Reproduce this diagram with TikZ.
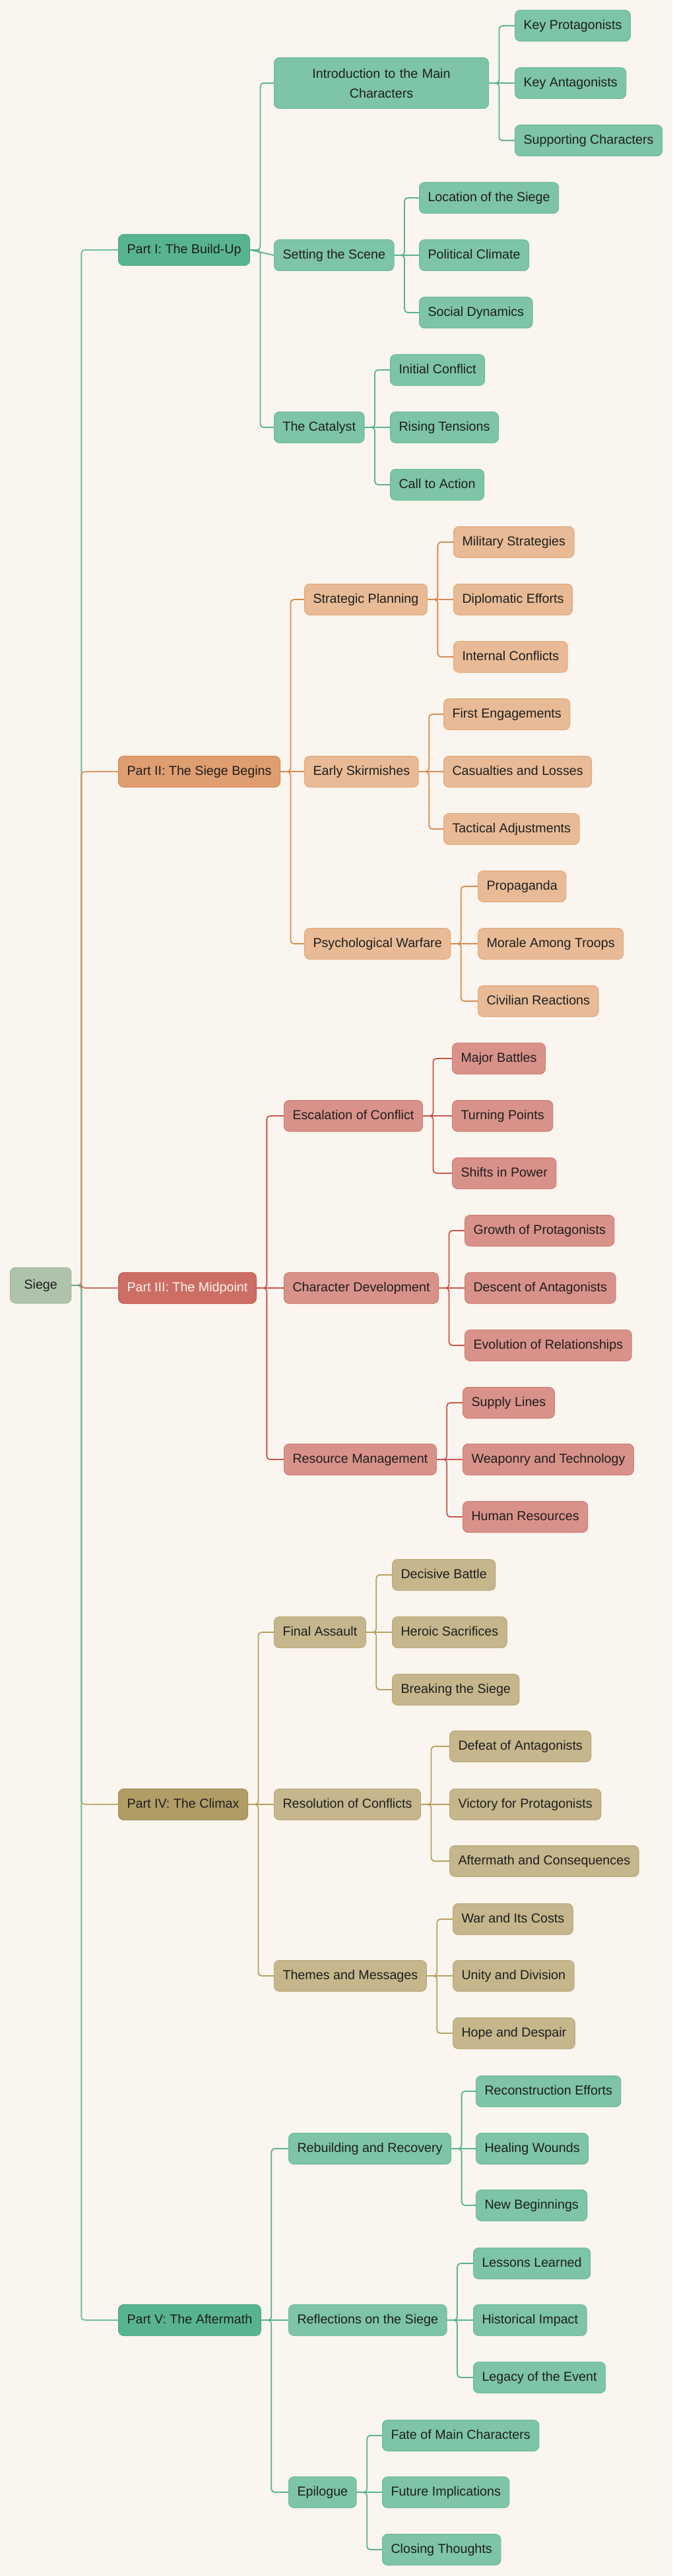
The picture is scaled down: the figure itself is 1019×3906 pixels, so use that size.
\documentclass[tikz,border=0pt]{standalone}
\usepackage{fontspec}
\setmainfont{Liberation Sans}

\definecolor{bg}{HTML}{FAF5EE}
\definecolor{ink}{HTML}{1E1E1E}
\definecolor{rootF}{HTML}{AEC4AA}
\definecolor{rootB}{HTML}{9DB799}
% green
\definecolor{grnD}{HTML}{58B490}
\definecolor{grnB}{HTML}{48A680}
\definecolor{grnL}{HTML}{7DC4A8}
\definecolor{grnM}{HTML}{6DBB9B}
\definecolor{grnE}{HTML}{5AB28F}
% orange
\definecolor{orgD}{HTML}{DF9E6F}
\definecolor{orgB}{HTML}{D4874F}
\definecolor{orgL}{HTML}{E8BB96}
\definecolor{orgM}{HTML}{E2A777}
\definecolor{orgE}{HTML}{D98A50}
% red
\definecolor{redD}{HTML}{CD6E65}
\definecolor{redB}{HTML}{C45A50}
\definecolor{redL}{HTML}{D9928A}
\definecolor{redM}{HTML}{CF7B72}
\definecolor{redE}{HTML}{C9554E}
% tan
\definecolor{tanD}{HTML}{B09D66}
\definecolor{tanB}{HTML}{A08C55}
\definecolor{tanL}{HTML}{C5B68C}
\definecolor{tanM}{HTML}{B9A878}
\definecolor{tanE}{HTML}{B8A060}

\tikzset{
  box/.style={rounded corners=4pt, line width=0.5pt, anchor=west,
    minimum height=23.5pt, inner xsep=6.5pt, inner ysep=2pt,
    text height=7.2pt, text depth=2.1pt, text=ink,
    font=\fontsize{9.85pt}{15pt}\selectfont},
  root/.style={box, fill=rootF, draw=rootB, minimum height=27pt, inner xsep=10.5pt},
  part/.style={box, fill=#1D, draw=#1B},
  topic/.style={box, fill=#1L, draw=#1M},
  edge/.style={draw=#1E, line width=0.9pt, rounded corners=2.5pt},
}

\begin{document}
\begin{tikzpicture}[x=0.5pt, y=-0.5pt]
  \fill[bg] (0,0) rectangle (1019,3906);

  % Nodes
  \node[root] (r) at (15,1949) {Siege};

  \node[part=grn] (p1) at (179,379) {Part I: The Build-Up};
  \node[topic=grn, text width=149.5pt, align=center, minimum height=38.5pt,
        text height=, text depth=] (t11) at (415,126) {Introduction to the Main\\Characters};
  \node[topic=grn] (t12) at (415,387) {Setting the Scene};
  \node[topic=grn] (t13) at (415,648) {The Catalyst};
  \node[topic=grn] (l111) at (780,39) {Key Protagonists};
  \node[topic=grn] (l112) at (780,126) {Key Antagonists};
  \node[topic=grn] (l113) at (780,213) {Supporting Characters};
  \node[topic=grn] (l121) at (635,300) {Location of the Siege};
  \node[topic=grn] (l122) at (635,387) {Political Climate};
  \node[topic=grn] (l123) at (635,474) {Social Dynamics};
  \node[topic=grn] (l131) at (591,561) {Initial Conflict};
  \node[topic=grn] (l132) at (591,648) {Rising Tensions};
  \node[topic=grn] (l133) at (591,735) {Call to Action};

  \node[part=org] (p2) at (179,1170) {Part II: The Siege Begins};
  \node[topic=org] (t21) at (461,909) {Strategic Planning};
  \node[topic=org] (t22) at (461,1170) {Early Skirmishes};
  \node[topic=org] (t23) at (461,1431) {Psychological Warfare};
  \node[topic=org] (l211) at (687,822) {Military Strategies};
  \node[topic=org] (l212) at (687,909) {Diplomatic Efforts};
  \node[topic=org] (l213) at (687,996) {Internal Conflicts};
  \node[topic=org] (l221) at (672,1083) {First Engagements};
  \node[topic=org] (l222) at (672,1170) {Casualties and Losses};
  \node[topic=org] (l223) at (672,1257) {Tactical Adjustments};
  \node[topic=org] (l231) at (724,1344) {Propaganda};
  \node[topic=org] (l232) at (724,1431) {Morale Among Troops};
  \node[topic=org] (l233) at (724,1518) {Civilian Reactions};

  \node[part=red, text=bg] (p3) at (179,1953) {Part III: The Midpoint};
  \node[topic=red] (t31) at (430,1692) {Escalation of Conflict};
  \node[topic=red] (t32) at (430,1953) {Character Development};
  \node[topic=red] (t33) at (430,2213) {Resource Management};
  \node[topic=red] (l311) at (685,1605) {Major Battles};
  \node[topic=red] (l312) at (685,1692) {Turning Points};
  \node[topic=red] (l313) at (685,1779) {Shifts in Power};
  \node[topic=red] (l321) at (704,1866) {Growth of Protagonists};
  \node[topic=red] (l322) at (704,1953) {Descent of Antagonists};
  \node[topic=red] (l323) at (704,2040) {Evolution of Relationships};
  \node[topic=red] (l331) at (701,2127) {Supply Lines};
  \node[topic=red] (l332) at (701,2213) {Weaponry and Technology};
  \node[topic=red] (l333) at (701,2300) {Human Resources};

  \node[part=tan] (p4) at (179,2736) {Part IV: The Climax};
  \node[topic=tan] (t41) at (415,2475) {Final Assault};
  \node[topic=tan] (t42) at (415,2736) {Resolution of Conflicts};
  \node[topic=tan] (t43) at (415,2996) {Themes and Messages};
  \node[topic=tan] (l411) at (594,2388) {Decisive Battle};
  \node[topic=tan] (l412) at (594,2475) {Heroic Sacrifices};
  \node[topic=tan] (l413) at (594,2562) {Breaking the Siege};
  \node[topic=tan] (l421) at (681,2648) {Defeat of Antagonists};
  \node[topic=tan] (l422) at (681,2736) {Victory for Protagonists};
  \node[topic=tan] (l423) at (681,2822) {Aftermath and Consequences};
  \node[topic=tan] (l431) at (686,2910) {War and Its Costs};
  \node[topic=tan] (l432) at (686,2996) {Unity and Division};
  \node[topic=tan] (l433) at (686,3083) {Hope and Despair};

  \node[part=grn] (p5) at (179,3518) {Part V: The Aftermath};
  \node[topic=grn] (t51) at (437,3258) {Rebuilding and Recovery};
  \node[topic=grn] (t52) at (437,3518) {Reflections on the Siege};
  \node[topic=grn] (t53) at (437,3779) {Epilogue};
  \node[topic=grn] (l511) at (721,3171) {Reconstruction Efforts};
  \node[topic=grn] (l512) at (721,3258) {Healing Wounds};
  \node[topic=grn] (l513) at (721,3344) {New Beginnings};
  \node[topic=grn] (l521) at (717,3432) {Lessons Learned};
  \node[topic=grn] (l522) at (717,3518) {Historical Impact};
  \node[topic=grn] (l523) at (717,3605) {Legacy of the Event};
  \node[topic=grn] (l531) at (579,3693) {Fate of Main Characters};
  \node[topic=grn] (l532) at (579,3779) {Future Implications};
  \node[topic=grn] (l533) at (579,3866) {Closing Thoughts};

  % Edges
  \foreach \p/\c in {p1/grn, p2/org, p3/red, p4/tan, p5/grn}
    \draw[edge=\c, opacity=.85] (r.east) -- ++(7.5pt,0) |- (\p.west);
  \foreach \n/\c in {1/grn, 2/org, 3/red, 4/tan, 5/grn}{
    \draw[edge=\c] (p\n.east) -- (t\n2.west);
    \draw[edge=\c] (t\n2.east) -- (l\n22.west);
    \foreach \t in {1,3}
      \draw[edge=\c] (p\n.east) -- ++(7.75pt,0) |- (t\n\t.west);
    \foreach \t in {1,2,3}{
      \draw[edge=\c] (t\n\t.east) -- ++(7.75pt,0) |- (l\n\t1.west);
      \draw[edge=\c] (t\n\t.east) -- ++(7.75pt,0) |- (l\n\t3.west);
      \ifnum\t=2\else
        \draw[edge=\c] (t\n\t.east) -- (l\n\t2.west);
      \fi
    }
  }
\end{tikzpicture}
\end{document}
